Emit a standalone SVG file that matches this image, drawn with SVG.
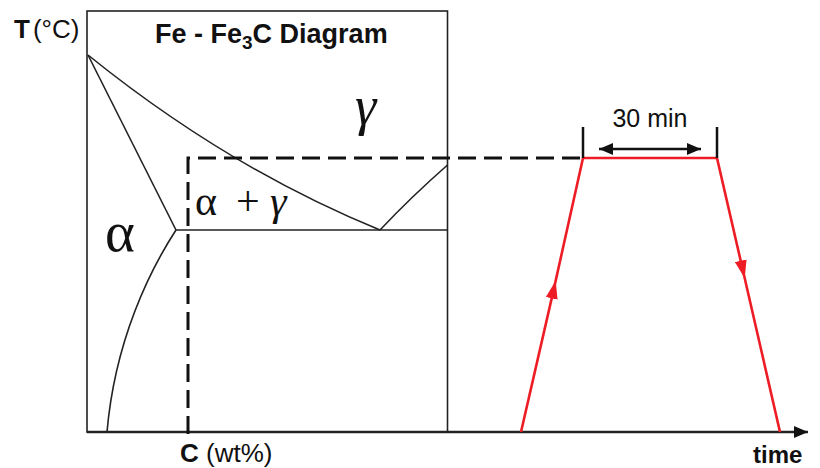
<svg xmlns="http://www.w3.org/2000/svg" width="820" height="468" viewBox="0 0 820 468">
<style>
.ln{fill:none;stroke:#222;stroke-width:1.6}
.dash{fill:none;stroke:#111;stroke-width:3;stroke-dasharray:18 8}
.red{fill:none;stroke:#ee1c25;stroke-width:2.6}
.sans{font-family:"Liberation Sans",Arial,sans-serif;fill:#111}
.greek{font-family:"Liberation Serif","Times New Roman",serif;fill:#111}
</style>
<defs>
<marker id="redArrow" viewBox="0 0 18 12" refX="9" refY="6" markerWidth="18" markerHeight="12" markerUnits="userSpaceOnUse" orient="auto">
<path d="M0,0 L18,6 L0,12 z" fill="#ee1c25"/>
</marker>
<marker id="blkArrow" viewBox="0 0 14 12" refX="14" refY="6" markerWidth="14" markerHeight="12" markerUnits="userSpaceOnUse" orient="auto-start-reverse">
<path d="M0,0 L14,6 L0,12 z" fill="#111"/>
</marker>
</defs>
<g id="phase-diagram">
<rect x="87" y="11" width="360.5" height="421" class="ln"/>
<path class="ln" d="M88,55 Q228,168 380,230"/>
<path class="ln" d="M88,55 L176,230"/>
<path class="ln" d="M176,230 C150,270 115,340 107,432"/>
<path class="ln" d="M176,230 H447.5"/>
<path class="ln" d="M380,230 Q410,198 447.5,165"/>
<text class="sans" x="155" y="43" font-size="27" font-weight="bold">Fe - Fe<tspan font-size="19" dy="6">3</tspan><tspan dy="-6">C Diagram</tspan></text>
<text class="greek" x="355" y="124" font-size="54" font-style="italic">γ</text>
<text class="greek" x="105" y="251" font-size="57">α</text>
<text class="greek" font-size="42" y="215"><tspan x="195">α</tspan><tspan x="236">+</tspan><tspan x="270" font-style="italic">γ</tspan></text>
</g>
<g id="axes">
<path d="M87,432 H808" fill="none" stroke="#222" stroke-width="2.5" marker-end="url(#blkArrow)"/>
<text class="sans" x="14" y="38" font-size="26"><tspan font-weight="bold">T</tspan><tspan dx="3">(°C)</tspan></text>
<text class="sans" x="180" y="462" font-size="26"><tspan font-weight="bold">C</tspan> (wt%)</text>
<text class="sans" x="753" y="463" font-size="24" font-weight="bold">time</text>
</g>
<g id="connectors">
<path class="dash" d="M188,434 V158 H583"/>
</g>
<g id="heat-treatment">
<path class="red" d="M583,158 H717"/>
<path class="red" d="M521,432 L553.7,289.6 L583,158" marker-mid="url(#redArrow)"/>
<path class="red" d="M717,158 L742.7,269.5 L780,432" marker-mid="url(#redArrow)"/>
</g>
<g id="dimension">
<path d="M583,127 V158 M717,127 V158" fill="none" stroke="#111" stroke-width="2.5"/>
<path d="M599,149 H701" fill="none" stroke="#111" stroke-width="2.5" marker-start="url(#blkArrow)" marker-end="url(#blkArrow)"/>
<text class="sans" x="650" y="127" font-size="25" text-anchor="middle">30 min</text>
</g>
</svg>
